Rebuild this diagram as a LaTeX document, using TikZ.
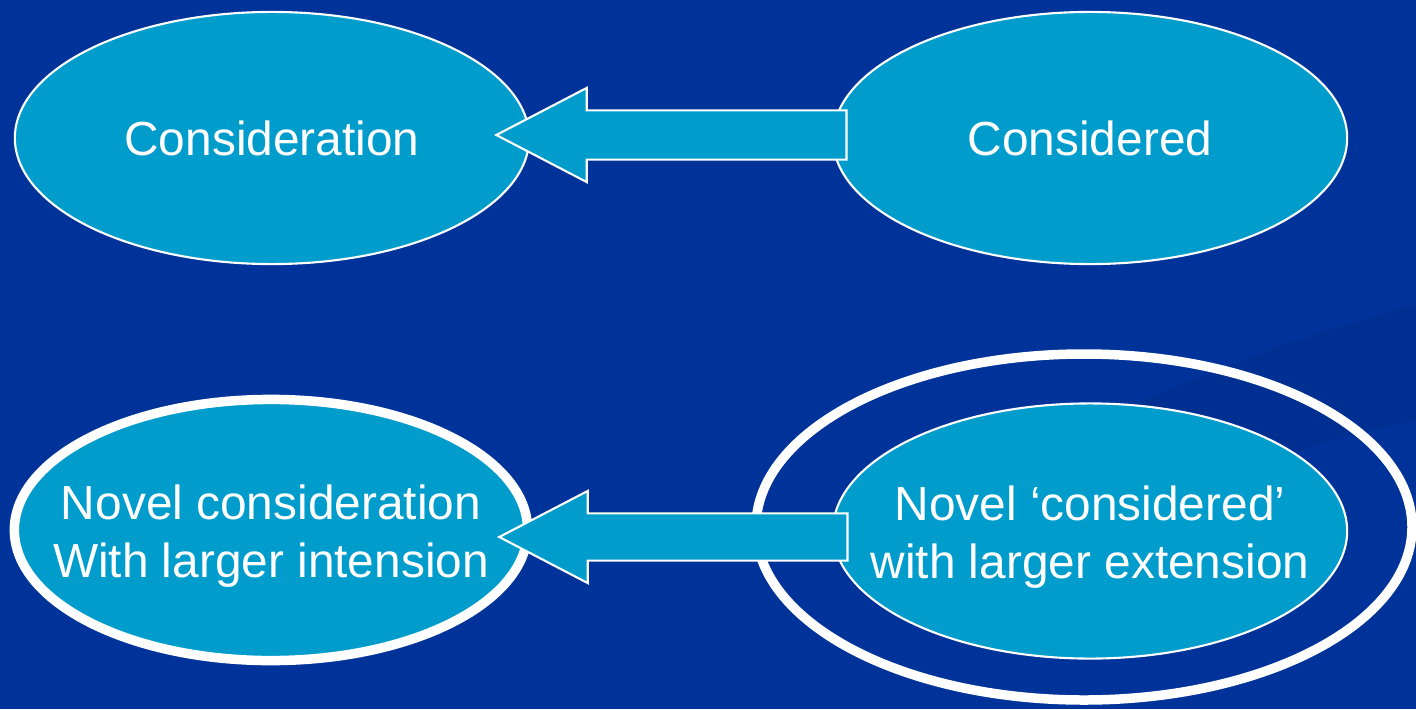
\documentclass[tikz,border=0pt]{standalone}
\usepackage{fontspec}
\setmainfont{Liberation Sans}
\usetikzlibrary{shapes.geometric, shapes.arrows, positioning}

\definecolor{slideblue}{RGB}{0,51,153}
\definecolor{swooshblue}{RGB}{0,47,146}
\definecolor{bubble}{RGB}{0,156,204}

\tikzset{
    bubblenode/.style={ellipse, fill=bubble, draw=white, line width=0.6pt, inner sep=0pt},
    bubbletext/.style={text=white, align=center, inner sep=0pt,
        font=\fontsize{13.6pt}{16.3pt}\selectfont},
    thickring/.style={line width=2.7pt},
    leftarrow/.style={single arrow, shape border rotate=180, fill=bubble, draw=white,
        line width=0.6pt, inner sep=0pt, text height=0.47cm, text depth=0pt,
        single arrow tip angle=55, single arrow head extend=0.225cm}
}

\begin{document}
\begin{tikzpicture}[x=0.01cm,y=-0.01cm]
    \useasboundingbox (0,0) rectangle (1416,709);
    \fill[slideblue] (0,0) rectangle (1416,709);
    \fill[swooshblue] (1060,440) .. controls (1200,370) and (1320,330) .. (1416,305)
        -- (1416,420) .. controls (1320,440) and (1230,470) .. (1150,520) -- cycle;
    % upper row
    \node[bubblenode, minimum width=5.14cm, minimum height=2.52cm] (cons) at (272,138) {};
    \node[bubbletext] at (cons) {Consideration};
    \node[bubblenode, minimum width=5.14cm, minimum height=2.52cm] (consd) at (1090,138) {};
    \node[bubbletext] at (consd) {Considered};
    % lower row
    \node[bubblenode, thickring, minimum width=5.13cm, minimum height=2.61cm] (novcons) at (271,530) {};
    \node[bubbletext, yshift=-0.06cm] at (novcons) {Novel consideration\\With larger intension};
    \draw[white, thickring] (1084,527) ellipse (328 and 173);
    \node[bubblenode, minimum width=5.14cm, minimum height=2.55cm] (novconsd) at (1090,531) {};
    \node[bubbletext, yshift=-0.06cm] at (novconsd) {Novel ‘considered’\\with larger extension};
    % arrows
    \node[leftarrow, minimum height=3.5cm] (arrtop) at (695,135) {};
    \node[leftarrow, minimum height=3.48cm, text height=0.45cm] (arrbot) at (696,537) {};
\end{tikzpicture}
\end{document}
